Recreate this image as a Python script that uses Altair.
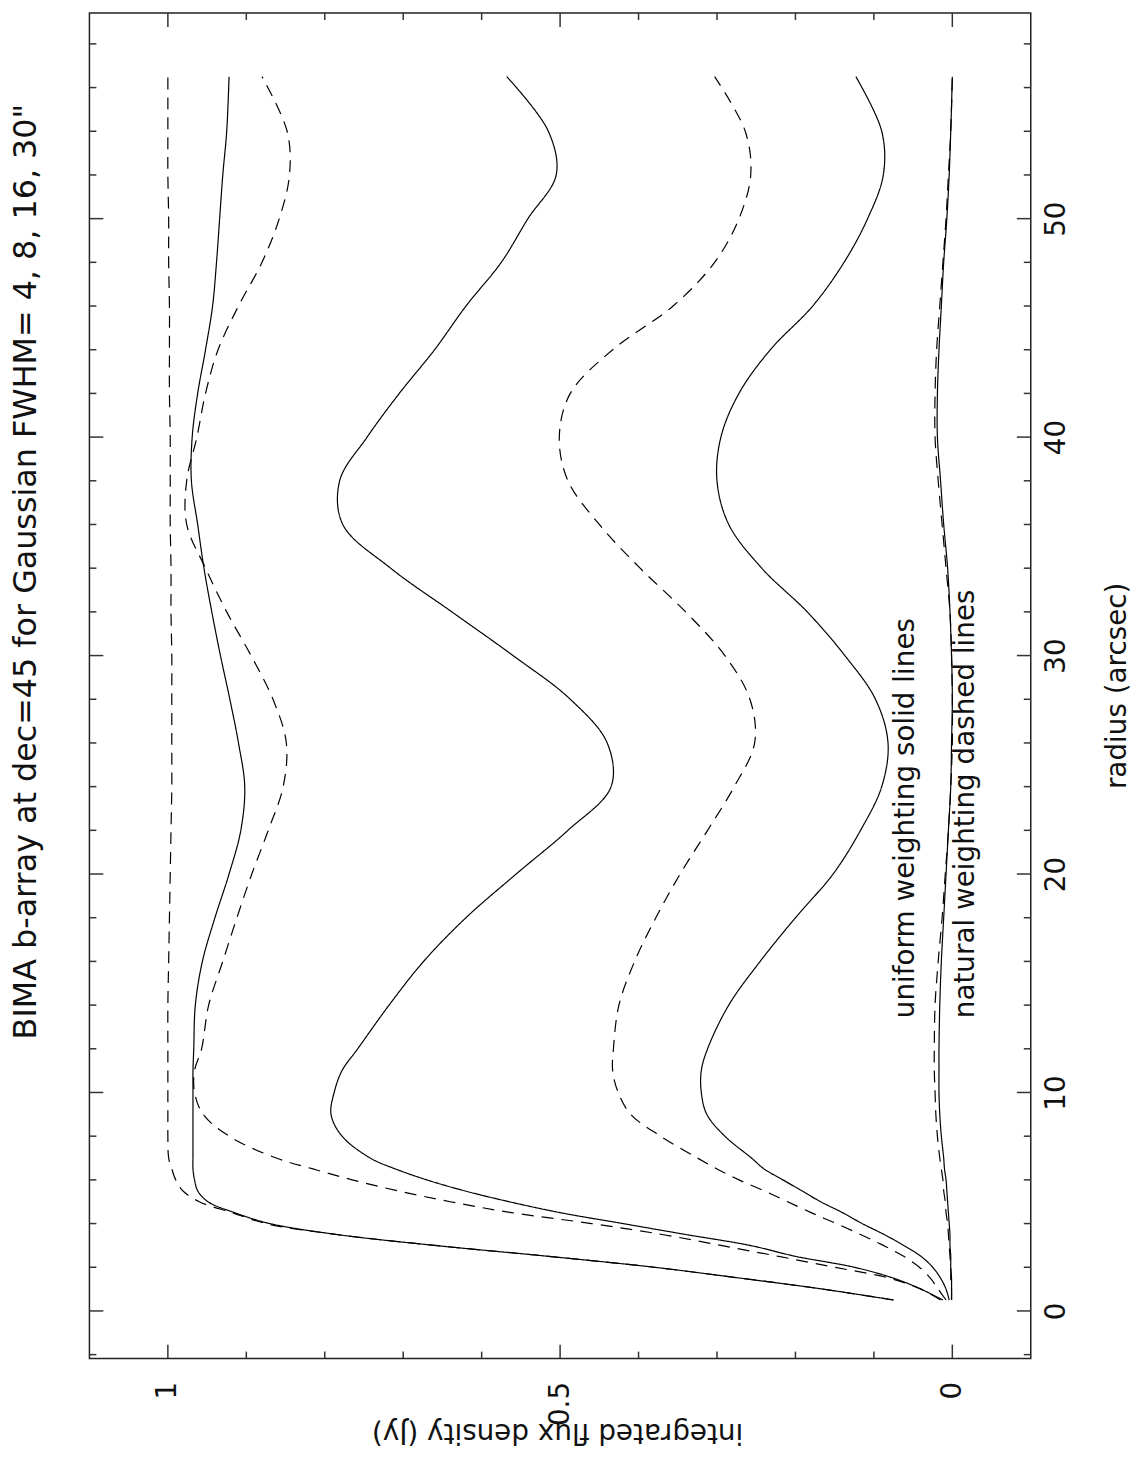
import altair as alt
import pandas as pd

FONT = "DejaVu Sans"

# ---- data -------------------------------------------------------------------
radius = [0.5, 1, 1.5, 2, 2.5, 3, 3.5, 4, 4.5, 5, 5.5, 6, 6.5, 7, 8, 9, 10, 11, 12,
          14, 16, 18, 20, 22, 24, 26, 28, 30, 32, 34, 36, 38, 40, 42, 44, 46, 48,
          50, 52, 54, 56.5]

natural_30 = [0.075, 0.165, 0.27, 0.38, 0.515, 0.66, 0.785, 0.875, 0.918, 0.96, 0.981,
              0.99, 0.995, 0.999, 1.0, 1.0, 1.0, 1.0, 1.0, 1.0, 0.999, 0.998, 0.997,
              0.996, 0.995, 0.995, 0.995, 0.995, 0.996, 0.996, 0.997, 0.997, 0.997,
              0.998, 0.998, 0.998, 0.999, 0.999, 1.0, 1.0, 1.0]
uniform_30 = [0.075, 0.165, 0.27, 0.38, 0.515, 0.66, 0.785, 0.87, 0.915, 0.949, 0.962,
              0.966, 0.968, 0.968, 0.968, 0.968, 0.968, 0.968, 0.967, 0.965, 0.956,
              0.94, 0.922, 0.907, 0.902, 0.91, 0.921, 0.933, 0.944, 0.954, 0.962,
              0.97, 0.969, 0.962, 0.952, 0.943, 0.938, 0.934, 0.93, 0.925, 0.922]
natural_16 = [0.015, 0.04, 0.08, 0.15, 0.222, 0.295, 0.37, 0.46, 0.562, 0.64, 0.707,
              0.765, 0.815, 0.862, 0.922, 0.955, 0.966, 0.966, 0.957, 0.948, 0.93,
              0.912, 0.893, 0.872, 0.853, 0.849, 0.866, 0.894, 0.925, 0.952, 0.976,
              0.976, 0.963, 0.952, 0.936, 0.91, 0.88, 0.858, 0.845, 0.848, 0.88]
uniform_16 = [0.012, 0.04, 0.075, 0.125, 0.2, 0.258, 0.34, 0.42, 0.5, 0.565, 0.622,
              0.67, 0.71, 0.742, 0.778, 0.792, 0.788, 0.778, 0.758, 0.718, 0.674,
              0.62, 0.556, 0.49, 0.435, 0.44, 0.487, 0.56, 0.638, 0.716, 0.777,
              0.781, 0.746, 0.705, 0.66, 0.62, 0.575, 0.541, 0.505, 0.515, 0.568]
natural_8 = [0.008, 0.018, 0.028, 0.042, 0.062, 0.088, 0.117, 0.148, 0.18, 0.21, 0.24,
             0.272, 0.3, 0.325, 0.372, 0.41, 0.426, 0.433, 0.432, 0.425, 0.405, 0.378,
             0.347, 0.312, 0.278, 0.252, 0.258, 0.29, 0.34, 0.398, 0.45, 0.49, 0.501,
             0.487, 0.433, 0.356, 0.303, 0.272, 0.257, 0.264, 0.303]
uniform_8 = [0.004, 0.008, 0.015, 0.025, 0.04, 0.062, 0.087, 0.115, 0.14, 0.168, 0.192,
             0.216, 0.24, 0.256, 0.29, 0.313, 0.32, 0.32, 0.312, 0.285, 0.245, 0.2,
             0.152, 0.117, 0.09, 0.082, 0.098, 0.137, 0.185, 0.243, 0.285, 0.3, 0.295,
             0.272, 0.232, 0.178, 0.138, 0.108, 0.088, 0.09, 0.123]
natural_4 = [0.001, 0.001, 0.002, 0.002, 0.003, 0.004, 0.005, 0.006, 0.008, 0.009, 0.011,
             0.012, 0.014, 0.016, 0.019, 0.021, 0.022, 0.023, 0.023, 0.022, 0.018, 0.013,
             0.009, 0.005, 0.002, 0.0, 0.0, 0.001, 0.003, 0.008, 0.013, 0.018, 0.022,
             0.022, 0.02, 0.016, 0.012, 0.008, 0.005, 0.002, 0.0]
uniform_4 = [0.001, 0.001, 0.001, 0.002, 0.002, 0.003, 0.003, 0.004, 0.005, 0.006, 0.007,
             0.008, 0.01, 0.011, 0.014, 0.016, 0.017, 0.017, 0.017, 0.016, 0.014, 0.011,
             0.008, 0.005, 0.002, 0.001, 0.0, 0.001, 0.003, 0.006, 0.011, 0.015, 0.019,
             0.019, 0.017, 0.014, 0.011, 0.007, 0.004, 0.002, 0.0]

series = [
    ("natural 30", "natural", natural_30),
    ("uniform 30", "uniform", uniform_30),
    ("natural 16", "natural", natural_16),
    ("uniform 16", "uniform", uniform_16),
    ("natural 8", "natural", natural_8),
    ("uniform 8", "uniform", uniform_8),
    ("natural 4", "natural", natural_4),
    ("uniform 4", "uniform", uniform_4),
]

radius_major = [0, 10, 20, 30, 40, 50]
radius_minor = [-2, 2, 4, 6, 8, 12, 14, 16, 18, 22, 24, 26, 28, 32, 34, 36, 38,
                42, 44, 46, 48, 52, 54, 56, 58]
flux_major = [0, 0.5, 1]
flux_minor = [0.1, 0.2, 0.3, 0.4, 0.6, 0.7, 0.8, 0.9]

title_text = "BIMA b-array at dec=45 for Gaussian FWHM= 4, 8, 16, 30\""
note_uniform = "uniform weighting solid lines"
note_natural = "natural weighting dashed lines"

# ---- build tables ------------------------------------------------------------
rows = []
for name, weighting, vals in series:
    for r, f in zip(radius, vals):
        rows.append({"series": name, "weighting": weighting, "radius": r, "flux": f})
df = pd.DataFrame(rows)

W, H = 948, 1355
INK = "#111"
TICK = "#333"

xscale = alt.Scale(domain=[-0.1, 1.1], reverse=True, nice=False, zero=False)
yscale = alt.Scale(domain=[-2.18, 59.41], nice=False, zero=False)

x_axis = alt.Axis(
    orient="bottom", values=flux_major, format="~g", ticks=False, tickSize=0,
    domain=False, grid=False, labelFlush=False, labelOverlap=False,
    labelAngle=270, labelAlign="right", labelBaseline="middle", labelPadding=23,
    labelFont=FONT, labelFontSize=28, labelColor=INK,
    title="integrated flux density (Jy)", titleAngle=180, titleX=471, titleY=73,
    titleAlign="center", titleBaseline="middle", titleFont=FONT, titleFontSize=28,
    titleFontWeight="normal", titleColor=INK,
)
y_axis = alt.Axis(
    orient="right", values=radius_major, format="d", ticks=False, tickSize=0,
    domain=False, grid=False, labelFlush=False, labelOverlap=False,
    labelAngle=270, labelAlign="center", labelBaseline="middle", labelPadding=26,
    labelFont=FONT, labelFontSize=28, labelColor=INK,
    title="radius (arcsec)", titleAngle=270, titleX=87, titleY=677,
    titleAlign="center", titleBaseline="middle", titleFont=FONT, titleFontSize=28,
    titleFontWeight="normal", titleColor=INK,
)

lines = alt.Chart(df).mark_line(
    color="black", strokeWidth=1.2, interpolate="catmull-rom"
).encode(
    x=alt.X("flux:Q", scale=xscale, axis=x_axis),
    y=alt.Y("radius:Q", scale=yscale, axis=y_axis),
    detail="series:N",
    order=alt.Order("radius:Q"),
    strokeDash=alt.StrokeDash(
        "weighting:N",
        scale=alt.Scale(domain=["uniform", "natural"], range=[[1, 0], [12, 8]]),
        legend=None,
    ),
)


def radius_ticks(values, length, side):
    d = pd.DataFrame({"radius": values})
    if side == "left":
        xs = dict(x=alt.value(0), x2=alt.value(length))
    else:
        xs = dict(x=alt.value(W - length), x2=alt.value(W))
    return alt.Chart(d).mark_rule(color=TICK, strokeWidth=1.5).encode(
        y=alt.Y("radius:Q", scale=yscale, axis=y_axis), **xs
    )


def flux_ticks(values, length, side):
    d = pd.DataFrame({"flux": values})
    if side == "top":
        ys = dict(y=alt.value(0), y2=alt.value(length))
    else:
        ys = dict(y=alt.value(H - length), y2=alt.value(H))
    return alt.Chart(d).mark_rule(color=TICK, strokeWidth=1.5).encode(
        x=alt.X("flux:Q", scale=xscale, axis=x_axis), **ys
    )


ticks = [
    radius_ticks(radius_major, 14, "left"), radius_ticks(radius_minor, 7, "left"),
    radius_ticks(radius_major, 14, "right"), radius_ticks(radius_minor, 7, "right"),
    flux_ticks(flux_major, 14, "top"), flux_ticks(flux_minor, 7, "top"),
    flux_ticks(flux_major, 14, "bottom"), flux_ticks(flux_minor, 7, "bottom"),
]

one = pd.DataFrame({"k": [0]})


def note(text, flux, rad):
    return alt.Chart(one).mark_text(
        angle=270, align="left", baseline="alphabetic", font=FONT,
        fontSize=28, color=INK,
    ).encode(
        x=alt.X(datum=flux, type="quantitative", scale=xscale, axis=x_axis),
        y=alt.Y(datum=rad, type="quantitative", scale=yscale, axis=y_axis),
        text=alt.value(text),
    )


notes = [note(note_uniform, 0.049, 13.4), note(note_natural, -0.027, 13.4)]

chart = alt.layer(lines, *ticks, *notes).properties(
    width=W, height=H,
    padding={"left": 82, "top": 0, "right": 110, "bottom": 91},
    autosize=alt.AutoSizeParams(type="none"),
    title=alt.TitleParams(
        text=title_text, orient="left", anchor="middle", dx=115, offset=46,
        font=FONT, fontSize=32, fontWeight="normal", color=INK,
    ),
).configure_view(stroke="#222", strokeWidth=1.5)

chart.save("out.html", embed_options={"renderer": "svg", "actions": False})
